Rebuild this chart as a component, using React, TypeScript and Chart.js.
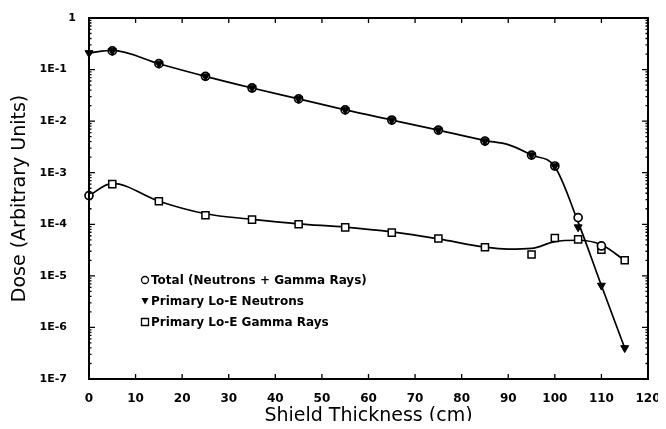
import React, { useEffect, useRef } from "react";
import { Chart, registerables } from "chart.js";

Chart.register(...registerables);

// ---- Data ----
const legendLabels = [
  "Total (Neutrons + Gamma Rays)",
  "Primary Lo-E Neutrons",
  "Primary Lo-E Gamma Rays",
];

// Total (open circles)
const totalX = [0, 5, 15, 25, 35, 45, 55, 65, 75, 85, 95, 100, 105, 110];
const totalY = [3.6e-4, 0.23, 0.13, 0.074, 0.044, 0.027, 0.0165, 0.0105, 0.0067, 0.0041, 0.0022, 0.00135, 1.35e-4, 3.8e-5];

// Primary Lo-E Neutrons (filled down triangles)
const neutronX = [0, 5, 15, 25, 35, 45, 55, 65, 75, 85, 95, 100, 105, 110, 115];
const neutronY = [0.21, 0.23, 0.13, 0.074, 0.044, 0.027, 0.0165, 0.0105, 0.0067, 0.0041, 0.0022, 0.00135, 8.8e-5, 6.5e-6, 4e-7];

// Primary Lo-E Gamma Rays (open squares)
const gammaX = [5, 15, 25, 35, 45, 55, 65, 75, 85, 95, 100, 105, 110, 115];
const gammaY = [6.0e-4, 2.8e-4, 1.5e-4, 1.23e-4, 1.0e-4, 8.7e-5, 6.9e-5, 5.3e-5, 3.6e-5, 2.6e-5, 5.4e-5, 5.1e-5, 3.2e-5, 2.0e-5];

// Smooth fitted curves
const neutronCurveX = [0, 5, 15, 25, 35, 45, 55, 65, 75, 85, 90, 95, 100, 105, 110, 115];
const neutronCurveY = [0.21, 0.235, 0.13, 0.074, 0.044, 0.027, 0.0165, 0.0105, 0.0067, 0.0042, 0.0035, 0.0022, 0.0013, 1.1e-4, 6.5e-6, 4e-7];

const gammaCurveX = [0, 5, 15, 25, 35, 45, 55, 65, 75, 85, 90, 95, 100, 105, 110, 115];
const gammaCurveY = [3.6e-4, 6.2e-4, 2.8e-4, 1.6e-4, 1.25e-4, 1.02e-4, 8.8e-5, 7.1e-5, 5.2e-5, 3.6e-5, 3.3e-5, 3.4e-5, 4.6e-5, 4.9e-5, 4.0e-5, 2.0e-5];

// Axes
const xTickValues = [0, 10, 20, 30, 40, 50, 60, 70, 80, 90, 100, 110, 120];
const yTickValues = [1e-7, 1e-6, 1e-5, 1e-4, 1e-3, 1e-2, 1e-1, 1];
const yTickLabels = ["1E-7", "1E-6", "1E-5", "1E-4", "1E-3", "1E-2", "1E-1", "1"];
const xTitle = "Shield Thickness (cm)";
const yTitle = "Dose (Arbitrary Units)";

const toPts = (xs: number[], ys: number[]) => xs.map((x, i) => ({ x, y: ys[i] }));

const LABEL_FONT = '"DejaVu Sans", sans-serif';

function drawMarker(ctx: CanvasRenderingContext2D, kind: string, x: number, y: number) {
  ctx.save();
  ctx.lineWidth = 1.3;
  ctx.strokeStyle = "#000";
  ctx.fillStyle = "#000";
  ctx.beginPath();
  if (kind === "circle") {
    ctx.arc(x, y, 3.5, 0, Math.PI * 2);
    ctx.stroke();
  } else if (kind === "triangle") {
    ctx.moveTo(x - 3.5, y - 3);
    ctx.lineTo(x + 3.5, y - 3);
    ctx.lineTo(x, y + 3.5);
    ctx.closePath();
    ctx.fill();
  } else {
    ctx.rect(x - 3.5, y - 3.5, 7, 7);
    ctx.stroke();
  }
  ctx.restore();
}

const framePlugin = {
  id: "frameTicks",
  afterDraw(chart: any) {
    const { ctx, chartArea: a, scales } = chart;
    const xs = scales.x;
    const ys = scales.y;
    ctx.save();
    ctx.strokeStyle = "#000";
    ctx.lineWidth = 2;
    ctx.strokeRect(a.left, a.top, a.right - a.left, a.bottom - a.top);

    ctx.lineWidth = 1.3;
    ctx.beginPath();
    xTickValues.forEach((v) => {
      if (v <= xTickValues[0] || v >= xTickValues[xTickValues.length - 1]) return;
      const px = xs.getPixelForValue(v);
      ctx.moveTo(px, a.bottom);
      ctx.lineTo(px, a.bottom - 5);
      ctx.moveTo(px, a.top);
      ctx.lineTo(px, a.top + 5);
    });
    for (let i = 0; i < yTickValues.length - 1; i++) {
      const base = yTickValues[i];
      for (let m = 1; m < 10; m++) {
        const py = ys.getPixelForValue(base * m);
        const len = m === 1 ? 6 : 2.5;
        ctx.moveTo(a.left, py);
        ctx.lineTo(a.left + len, py);
        ctx.moveTo(a.right, py);
        ctx.lineTo(a.right - len, py);
      }
    }
    ctx.stroke();

    // y tick labels
    ctx.fillStyle = "#000";
    ctx.font = `bold 11px ${LABEL_FONT}`;
    ctx.textAlign = "right";
    ctx.textBaseline = "middle";
    yTickValues.forEach((v, i) => {
      const lbl = yTickLabels[i];
      const py = ys.getPixelForValue(v);
      const x = lbl.indexOf("E") >= 0 ? a.left - 22 : a.left - 13;
      ctx.fillText(lbl, x, py);
    });

    // legend
    const kinds = ["circle", "triangle", "rect"];
    ctx.font = `bold 12px ${LABEL_FONT}`;
    ctx.textAlign = "left";
    legendLabels.forEach((lbl, i) => {
      const y = a.top + 262 + i * 21;
      drawMarker(ctx, kinds[i], a.left + 56, y);
      ctx.fillStyle = "#000";
      ctx.fillText(lbl, a.left + 62, y + 0.5);
    });
    ctx.restore();
  },
};

export default function App() {
  const ref = useRef<HTMLCanvasElement | null>(null);

  useEffect(() => {
    if (!ref.current) return;
    const chart = new Chart(ref.current, {
      type: "line",
      data: {
        datasets: [
          {
            label: legendLabels[1],
            data: toPts(neutronX, neutronY),
            showLine: false,
            pointStyle: "triangle",
            pointRotation: 180,
            pointRadius: 4.6,
            pointBackgroundColor: "#000",
            pointBorderColor: "#000",
            pointBorderWidth: 1,
            order: 0,
            clip: false,
          },
          {
            label: legendLabels[0],
            data: toPts(totalX, totalY),
            showLine: false,
            pointStyle: "circle",
            pointRadius: 4,
            pointBackgroundColor: "#fff",
            pointBorderColor: "#000",
            pointBorderWidth: 1.7,
            order: 1,
            clip: false,
          },
          {
            label: legendLabels[2],
            data: toPts(gammaX, gammaY),
            showLine: false,
            pointStyle: "rect",
            pointRadius: 5,
            pointBackgroundColor: "#fff",
            pointBorderColor: "#000",
            pointBorderWidth: 1.5,
            order: 2,
            clip: false,
          },
          {
            label: "neutron fit",
            data: toPts(neutronCurveX, neutronCurveY),
            borderColor: "#000",
            borderWidth: 1.7,
            pointRadius: 0,
            cubicInterpolationMode: "monotone",
            order: 3,
          },
          {
            label: "gamma fit",
            data: toPts(gammaCurveX, gammaCurveY),
            borderColor: "#000",
            borderWidth: 1.7,
            pointRadius: 0,
            cubicInterpolationMode: "monotone",
            order: 4,
          },
        ],
      },
      options: {
        animation: false,
        responsive: false,
        events: [],
        layout: { padding: { top: 10, right: 10, left: 0, bottom: 0 } },
        plugins: { legend: { display: false }, tooltip: { enabled: false } },
        scales: {
          x: {
            type: "linear",
            min: 0,
            max: 120,
            grid: { display: false },
            border: { display: false },
            afterBuildTicks: (scale: any) => {
              scale.ticks = xTickValues.map((v) => ({ value: v }));
            },
            ticks: {
              color: "#000",
              padding: 5,
              autoSkip: false,
              maxRotation: 0,
              font: { family: LABEL_FONT, size: 12, weight: "bold" },
            },
            title: {
              display: true,
              text: xTitle,
              color: "#000",
              font: { family: LABEL_FONT, size: 19, weight: "normal", lineHeight: 1 },
              padding: { top: 0, bottom: 3.5 },
            },
            afterFit: (scale: any) => {
              scale.height = 50;
              scale.paddingLeft = 0;
              scale.paddingRight = 0;
            },
          },
          y: {
            type: "logarithmic",
            min: 1e-7,
            max: 1,
            grid: { display: false },
            border: { display: false },
            ticks: { display: false },
            title: {
              display: true,
              text: yTitle,
              color: "#000",
              font: { family: LABEL_FONT, size: 19, weight: "normal", lineHeight: 1 },
              padding: { top: 3, bottom: 0 },
            },
            afterFit: (scale: any) => {
              scale.width = 81;
              scale.paddingTop = 0;
              scale.paddingBottom = 0;
            },
          },
        },
      } as any,
      plugins: [framePlugin],
    });
    return () => chart.destroy();
  }, []);

  return (
    <div style={{ width: 650, height: 421, marginBottom: -8 }}>
      <canvas ref={ref} width={650} height={421} style={{ display: "block", width: 650, height: 421 }} />
    </div>
  );
}
